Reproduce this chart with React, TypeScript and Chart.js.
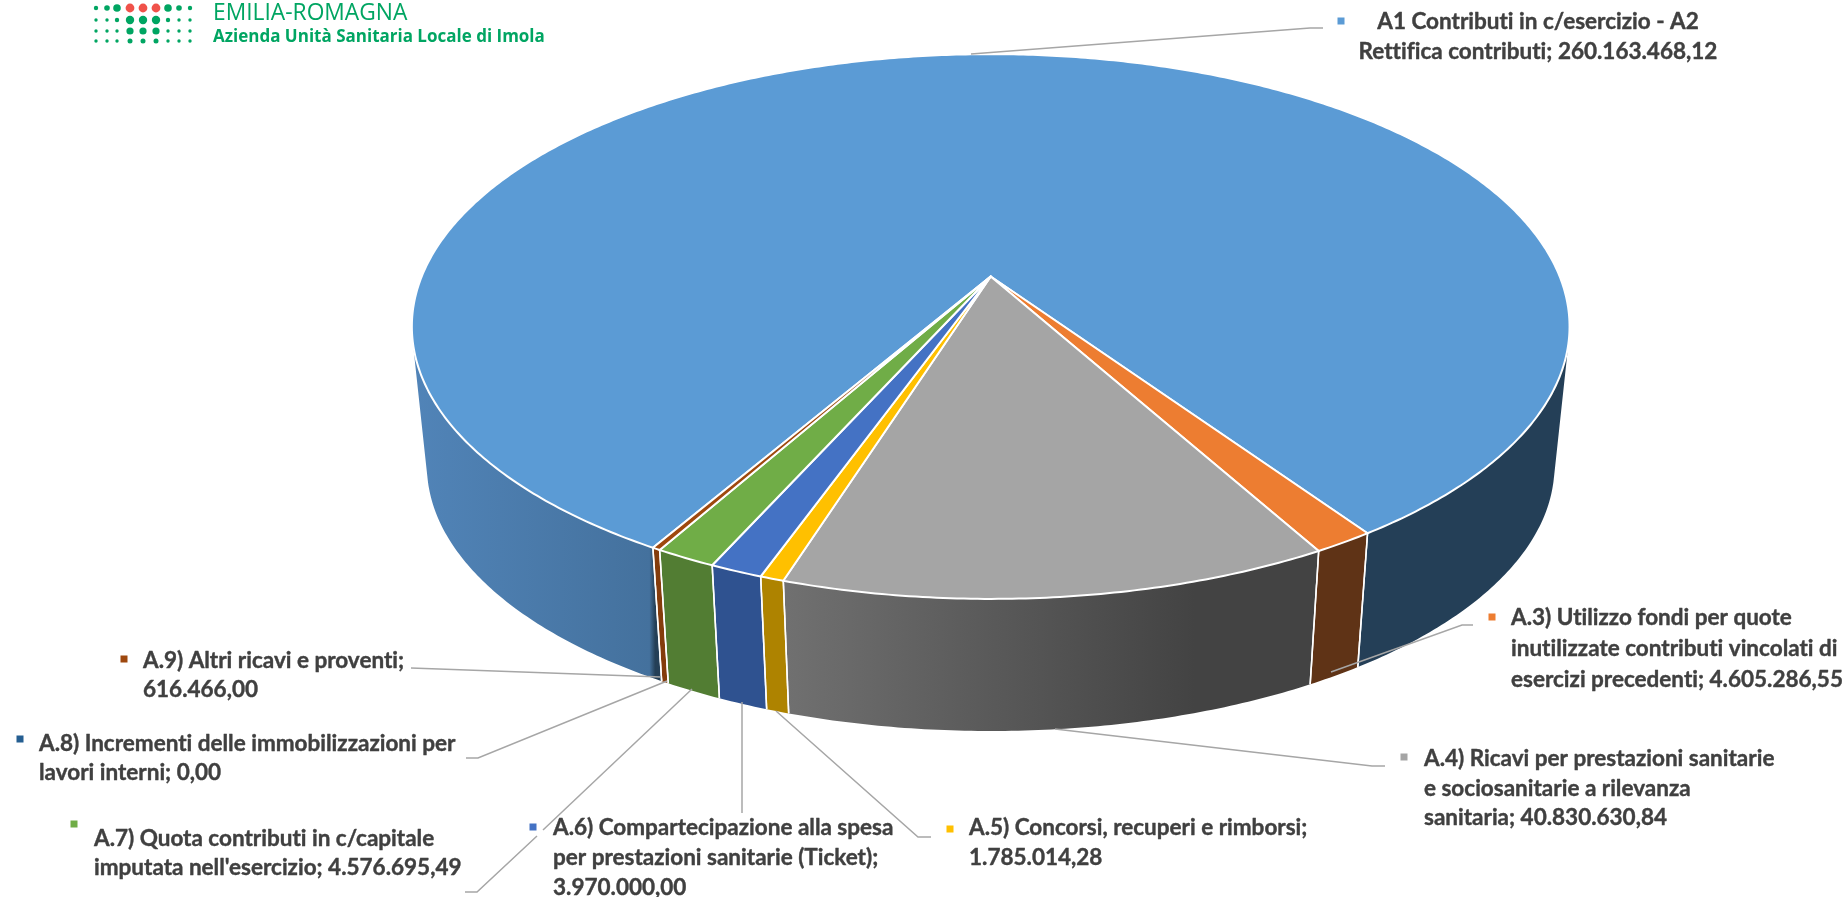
import React, { useEffect, useRef } from "react";
import { Chart, registerables } from "chart.js";

Chart.register(...registerables);

const categories = [
  "A1 Contributi in c/esercizio - A2 Rettifica contributi",
  "A.3) Utilizzo fondi per quote inutilizzate contributi vincolati di esercizi precedenti",
  "A.4) Ricavi per prestazioni sanitarie e sociosanitarie a rilevanza sanitaria",
  "A.5) Concorsi, recuperi e rimborsi",
  "A.6) Compartecipazione alla spesa per prestazioni sanitarie (Ticket)",
  "A.7) Quota contributi in c/capitale imputata nell'esercizio",
  "A.8) Incrementi delle immobilizzazioni per lavori interni",
  "A.9) Altri ricavi e proventi",
];
const values = [260163468.12, 4605286.55, 40830630.84, 1785014.28, 3970000.0, 4576695.49, 0.0, 616466.0];
const topColors = ["#5b9bd5", "#ed7d31", "#a5a5a5", "#ffc000", "#4472c4", "#70ad47", "#255e91", "#9e480e"];
const wallColors = ["", "#5f3316", "", "#ae8300", "#2f5290", "#527d33", "#1a4266", "#843c0c"];

const labelLines = [
  ["A1 Contributi in c/esercizio - A2", "Rettifica contributi; 260.163.468,12"],
  ["A.3) Utilizzo fondi per quote", "inutilizzate contributi vincolati di", "esercizi precedenti; 4.605.286,55"],
  ["A.4) Ricavi per prestazioni sanitarie", "e sociosanitarie a rilevanza", "sanitaria; 40.830.630,84"],
  ["A.5) Concorsi, recuperi e rimborsi;", "1.785.014,28"],
  ["A.6) Compartecipazione alla spesa", "per prestazioni sanitarie (Ticket);", "3.970.000,00"],
  ["A.7) Quota contributi in c/capitale", "imputata nell'esercizio; 4.576.695,49"],
  ["A.8) Incrementi delle immobilizzazioni per", "lavori interni; 0,00"],
  ["A.9) Altri ricavi e proventi;", "616.466,00"],
];

const labelLayout: any[] = [
  { x: 1538, ys: [22, 52], mx: 1341, my: 21, align: "center" },
  { x: 1511, ys: [618, 649, 680], mx: 1492, my: 617, align: "left" },
  { x: 1424, ys: [759, 789, 818], mx: 1404, my: 757, align: "left" },
  { x: 969, ys: [828, 858], mx: 950, my: 829, align: "left" },
  { x: 553, ys: [828, 858, 888], mx: 533, my: 827, align: "left" },
  { x: 94, ys: [839, 868], mx: 74, my: 824, align: "left" },
  { x: 39, ys: [744, 773], mx: 20, my: 739, align: "left" },
  { x: 143, ys: [661, 690], mx: 124, my: 659, align: "left" },
];
const leaders: number[][][] = [
  [[971, 54], [1310, 28], [1323, 28]],
  [[1331, 672], [1462, 625], [1473, 625]],
  [[1055, 729], [1372, 766], [1385, 766]],
  [[776, 711], [918, 837], [931, 837]],
  [[742, 702], [742, 813]],
  [[692, 689], [543, 830]],
  [[537, 836], [477, 892], [465, 892]],
  [[667, 681], [478, 758], [466, 758]],
  [[661, 677], [411, 668]],
];

const logoCols = [96, 107, 117, 130, 143, 156, 168, 179, 190];
const logoRows = [8, 20, 31, 41];
const logoSizes = [
  [2.2, 2.8, 3.8, 4.4, 4.4, 4.4, 3.8, 2.8, 2.2],
  [1.7, 1.7, 2.2, 4.2, 4.2, 4.2, 2.2, 1.7, 1.7],
  [1.7, 1.7, 1.7, 3.6, 3.6, 3.6, 1.7, 1.7, 1.7],
  [1.7, 1.7, 1.7, 2.5, 2.5, 2.5, 1.7, 1.7, 1.7],
];

const CX = 990.7, CY = 276.5, RX = 569, RY = 263.2, K = 0.1836, BS = 0.974, BY = 417;

function top(a: number) {
  const u = Math.cos(a), v = Math.sin(a), d = 1 - K * v;
  return [CX + (RX * u) / d, CY + (RY * v) / d];
}
function bottom(a: number) {
  const p = top(a);
  return [CX + BS * (p[0] - CX), BY + BS * (p[1] - CY)];
}
function area(q: number[][]) {
  let s = 0;
  q.forEach((p, i) => {
    const n = q[(i + 1) % q.length];
    s += p[0] * n[1] - n[0] * p[1];
  });
  return s;
}

const pie3d = {
  id: "pie3d",
  beforeDatasetDraw(chart: any) {
    const ctx: CanvasRenderingContext2D = chart.ctx;
    const arcs = chart.getDatasetMeta(0).data;
    const blueWall = ctx.createLinearGradient(412, 0, 1570, 0);
    blueWall.addColorStop(0, "#5184b8");
    blueWall.addColorStop(0.205, "#44719d");
    blueWall.addColorStop(0.21, "#243f57");
    blueWall.addColorStop(1, "#243f57");
    const grayWall = ctx.createLinearGradient(787, 0, 1310, 0);
    grayWall.addColorStop(0, "#707070");
    grayWall.addColorStop(0.78, "#434343");
    grayWall.addColorStop(1, "#434343");

    ctx.save();
    ctx.lineJoin = "round";
    // walls: one quad per step, wound the same way, all in one path
    arcs.forEach((arc: any, i: number) => {
      if (values[i] <= 0) return;
      const span = arc.endAngle - arc.startAngle;
      const n = Math.max(2, Math.ceil(span / 0.01));
      ctx.beginPath();
      for (let j = 0; j < n; j++) {
        const a0 = arc.startAngle + (span * j) / n;
        const a1 = arc.startAngle + (span * (j + 1)) / n;
        if (Math.sin(a0) < -0.1 && Math.sin(a1) < -0.1) continue;
        let q = [top(a0), top(a1), bottom(a1), bottom(a0)];
        if (area(q) < 0) q = q.slice().reverse();
        q.forEach((p, m) => (m ? ctx.lineTo(p[0], p[1]) : ctx.moveTo(p[0], p[1])));
        ctx.closePath();
      }
      ctx.fillStyle = (i === 0 ? blueWall : i === 2 ? grayWall : wallColors[i]) as any;
      ctx.fill();
    });
    // white seams between the wall faces
    ctx.strokeStyle = "#ffffff";
    ctx.lineWidth = 1.5;
    arcs.forEach((arc: any, i: number) => {
      if (values[i] <= 0) return;
      [arc.startAngle, arc.endAngle].forEach((a: number) => {
        if (Math.sin(a) < 0.3) return;
        const p = top(a), q = bottom(a);
        ctx.beginPath();
        ctx.moveTo(p[0], p[1]);
        ctx.lineTo(q[0], q[1]);
        ctx.stroke();
      });
    });
    // top faces
    ctx.lineWidth = 2;
    arcs.forEach((arc: any, i: number) => {
      if (values[i] <= 0) return;
      const n = Math.max(2, Math.ceil((arc.endAngle - arc.startAngle) / 0.01));
      ctx.beginPath();
      ctx.moveTo(CX, CY);
      for (let j = 0; j <= n; j++) {
        const p = top(arc.startAngle + ((arc.endAngle - arc.startAngle) * j) / n);
        ctx.lineTo(p[0], p[1]);
      }
      ctx.closePath();
      ctx.fillStyle = arc.options.backgroundColor;
      ctx.fill();
      ctx.stroke();
    });
    ctx.restore();
    return false;
  },
  afterDraw(chart: any) {
    const ctx: CanvasRenderingContext2D = chart.ctx;
    ctx.save();
    ctx.strokeStyle = "#a6a6a6";
    ctx.lineWidth = 1.5;
    leaders.forEach((pts) => {
      ctx.beginPath();
      pts.forEach((p, i) => (i ? ctx.lineTo(p[0], p[1]) : ctx.moveTo(p[0], p[1])));
      ctx.stroke();
    });
    ctx.textBaseline = "middle";
    ctx.font = "bold 22.5px Lato";
    (ctx as any).textRendering = "optimizeSpeed";
    ctx.lineJoin = "round";
    labelLines.forEach((lines, i) => {
      const l = labelLayout[i];
      ctx.fillStyle = topColors[i];
      ctx.fillRect(l.mx - 3.5, l.my - 3.5, 7, 7);
      ctx.fillStyle = "#404040";
      ctx.strokeStyle = "#404040";
      ctx.lineWidth = 0.4;
      ctx.textAlign = l.align;
      lines.forEach((t, j) => {
        ctx.fillText(t, l.x, l.ys[j]);
        ctx.strokeText(t, l.x, l.ys[j]);
      });
    });
    logoRows.forEach((y, r) =>
      logoCols.forEach((x, c) => {
        ctx.beginPath();
        ctx.arc(x, y, logoSizes[r][c], 0, Math.PI * 2);
        ctx.fillStyle = r === 0 && c >= 3 && c <= 5 ? "#f0524a" : "#00a562";
        ctx.fill();
      })
    );
    ctx.textAlign = "left";
    ctx.fillStyle = "#00a562";
    ctx.font = '22.8px "Open Sans"';
    ctx.fillText("EMILIA-ROMAGNA", 213, 14);
    ctx.font = 'bold 17px "Open Sans"';
    ctx.fillText("Azienda Unità Sanitaria Locale di Imola", 213, 37);
    ctx.restore();
  },
};

export default function App() {
  const ref = useRef<HTMLCanvasElement>(null);
  useEffect(() => {
    document.body.style.margin = "0";
    document.body.style.background = "#ffffff";
    const chart = new Chart(ref.current as HTMLCanvasElement, {
      type: "pie",
      data: {
        labels: categories,
        datasets: [{ data: values, backgroundColor: topColors, borderColor: "#ffffff", borderWidth: 2 }],
      },
      options: {
        responsive: false,
        devicePixelRatio: 1,
        animation: false,
        rotation: 209.95,
        plugins: { legend: { display: false }, tooltip: { enabled: false } },
      },
      plugins: [pie3d],
    } as any);
    return () => chart.destroy();
  }, []);
  return <canvas ref={ref} width={1845} height={897} style={{ display: "block" }} />;
}
